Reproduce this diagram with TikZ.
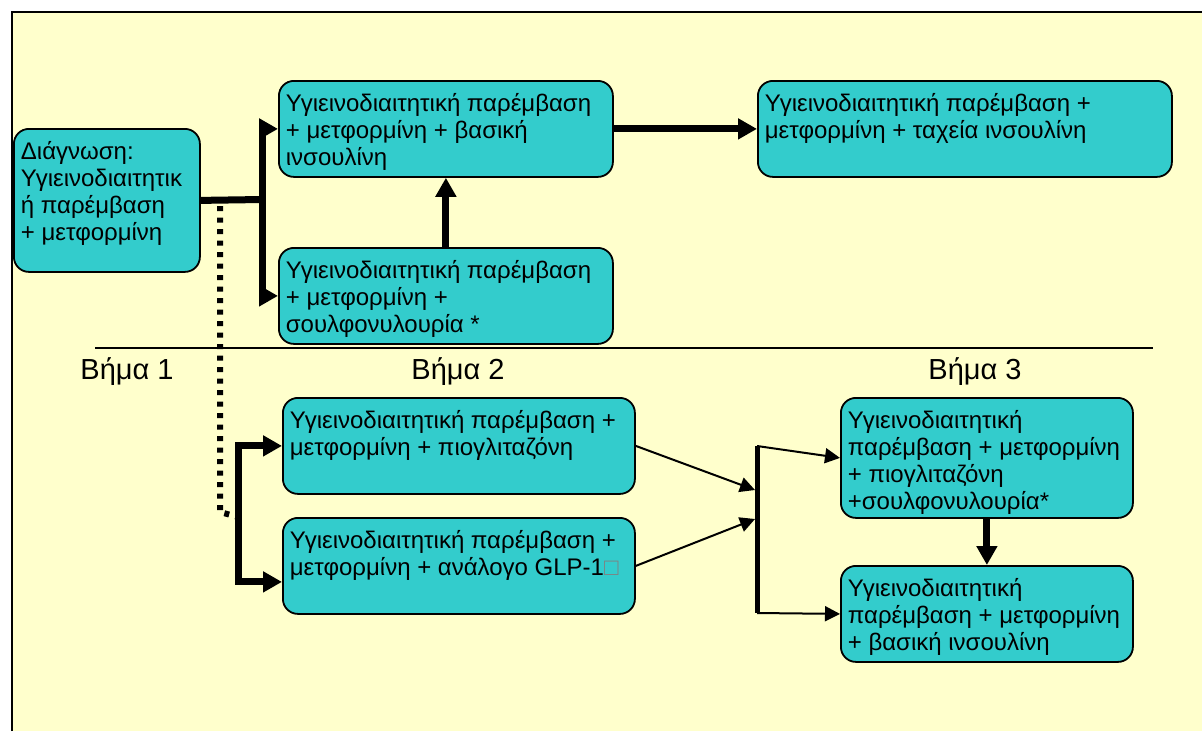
\documentclass[tikz,border=0pt]{standalone}
\usepackage{fontspec}
\setmainfont{Liberation Sans}
\usetikzlibrary{arrows.meta}
\usetikzlibrary{positioning}

\definecolor{bgyellow}{HTML}{FFFFCC}
\definecolor{boxcyan}{HTML}{33CCCC}

% text block of a box: width, height, lines
\newcommand{\boxtext}[3]{\parbox[c][#2][t]{#1}{\raggedright\hyphenpenalty=10000\rule{0pt}{31pt}#3}}

\tikzset{
  stepbox/.style={draw=black,line width=1.8pt,fill=boxcyan,rounded corners=15pt,
    inner xsep=7pt,inner ysep=0pt,anchor=north west},
  steplabel/.style={inner sep=0pt,font=\fontsize{29}{33}\selectfont},
  busline/.style={line width=7pt},
  dotline/.style={line width=6pt,dash pattern=on 5pt off 6.5pt},
  bigarrow/.style={line width=7pt,-{Triangle[length=19pt,width=20pt]}},
  smallarrow/.style={line width=2pt,-{Triangle[length=15pt,width=15pt]}},
}

\begin{document}
\begin{tikzpicture}[x=1pt,y=-1pt,font=\fontsize{24}{27}\selectfont]
			\useasboundingbox (0,0) rectangle (1202,731);
			%background and frame
			\fill[bgyellow] (12,12) rectangle (1202,731);
			\draw[line width=2.5pt] (12,731)--(12,12)--(1202,12);
			%boxes
			\node[stepbox] (diag) at (13,128) {\boxtext{172pt}{143pt}{Διάγνωση:\\Υγιεινοδιαιτητικ\\ή παρέμβαση\\+ μετφορμίνη}};
			\node[stepbox] (basal) at (278,80) {\boxtext{320pt}{96pt}{Υγιεινοδιαιτητική παρέμβαση\\+ μετφορμίνη + βασική\\ινσουλίνη}};
			\node[stepbox] (sulf) at (278,247) {\boxtext{320pt}{96pt}{Υγιεινοδιαιτητική παρέμβαση\\+ μετφορμίνη +\\σουλφονυλουρία *}};
			\node[stepbox] (rapid) at (757,80) {\boxtext{400pt}{96pt}{Υγιεινοδιαιτητική παρέμβαση +\\μετφορμίνη + ταχεία ινσουλίνη}};
			\node[stepbox] (pio) at (282,397) {\boxtext{338pt}{96pt}{Υγιεινοδιαιτητική παρέμβαση +\\μετφορμίνη + πιογλιταζόνη}};
			\node[stepbox] (glp) at (282,517) {\boxtext{338pt}{96pt}{Υγιεινοδιαιτητική παρέμβαση +\\μετφορμίνη + ανάλογο GLP-1{\color{gray}□}}};
			\node[stepbox] (piosulf) at (840,397) {\boxtext{278pt}{120pt}{Υγιεινοδιαιτητική\\παρέμβαση + μετφορμίνη\\+ πιογλιταζόνη\\+σουλφονυλουρία*}};
			\node[stepbox] (basal2) at (840,565) {\boxtext{278pt}{96pt}{Υγιεινοδιαιτητική\\παρέμβαση + μετφορμίνη\\+ βασική ινσουλίνη}};
			%steps
			\draw[line width=1.5pt] (95,348)--(1153,348);
			\node[steplabel] (step1) at (127,372) {Βήμα 1};
			\node[steplabel] (step2) at (458,372) {Βήμα 2};
			\node[steplabel] (step3) at (975,372) {Βήμα 3};
			%from diagnosis
			\coordinate (fork) at (262,199.5);
			\coordinate (dotstart) at (220,206);
			\coordinate (join) at (238,517);
			\draw[dotline] (dotstart)--(220,512)--(join);
			\draw[busline] (diag.east)--(fork);
			\draw[bigarrow] (fork)|-(basal.west);
			\draw[bigarrow] (fork)|-(sulf.west);
			\draw[bigarrow] (sulf.north)--(basal.south);
			\draw[bigarrow] (basal.east)--(rapid.west);
			\draw[bigarrow] (join)|-(pio.west);
			\draw[bigarrow] (join)|-([yshift=-16pt]glp.west);
			%step 3
			\coordinate (barT) at (757,446);
			\coordinate (barB) at (757,613);
			\coordinate (inA) at (755,490);
			\coordinate (inB) at (755,519);
			\draw[line width=5pt] (barT)--(barB);
			\draw[smallarrow] (pio.east)--(inA);
			\draw[smallarrow] (glp.east)--(inB);
			\draw[smallarrow] (barT)--(piosulf.west);
			\draw[smallarrow] (barB)--(basal2.west);
			\draw[bigarrow] (piosulf.south)--(basal2.north);
		\end{tikzpicture}
\end{document}
